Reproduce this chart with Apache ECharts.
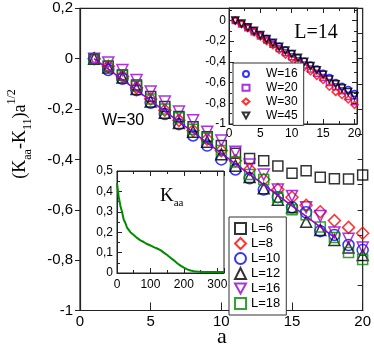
<!DOCTYPE html>
<html><head><meta charset="utf-8">
<script src="https://cdn.jsdelivr.net/npm/echarts@6/dist/echarts.min.js"></script>
<style>html,body{margin:0;padding:0;background:#fff}#c{width:374px;height:346px}</style>
</head><body><div id="c"></div>
<script>
// ---- data ----
const A_VALUES = [1,2,3,4,5,6,7,8,9,10,11,12,13,14,15,16,17,18,19,20];
const L6  = [0,-0.03,-0.065,-0.105,-0.15,-0.19,-0.23,-0.27,-0.31,-0.345,-0.376,-0.396,-0.405,-0.426,-0.455,-0.445,-0.471,-0.477,-0.478,-0.462];
const L8  = [0,-0.03,-0.07,-0.115,-0.16,-0.205,-0.245,-0.285,-0.32,-0.365,-0.405,-0.44,-0.48,-0.52,-0.55,-0.582,-0.608,-0.643,-0.67,-0.693];
const L10 = [0,-0.045,-0.08,-0.125,-0.175,-0.22,-0.26,-0.305,-0.345,-0.4,-0.44,-0.475,-0.52,-0.55,-0.59,-0.61,-0.685,-0.7,-0.74,-0.76];
const L12 = [0,-0.035,-0.075,-0.12,-0.17,-0.215,-0.255,-0.29,-0.33,-0.38,-0.425,-0.47,-0.515,-0.56,-0.59,-0.648,-0.68,-0.72,-0.75,-0.78];
const L16 = [0,-0.015,-0.045,-0.085,-0.13,-0.17,-0.21,-0.245,-0.29,-0.325,-0.37,-0.42,-0.46,-0.52,-0.545,-0.59,-0.625,-0.69,-0.715,-0.75];
const L18 = [0,-0.03,-0.065,-0.11,-0.16,-0.2,-0.235,-0.28,-0.315,-0.365,-0.41,-0.46,-0.48,-0.55,-0.6,-0.62,-0.668,-0.71,-0.77,-0.797];
const FIT_X = [1,18];
const FIT_Y = [0,-0.71];

const W16 = [0,-0.03,-0.065,-0.1,-0.14,-0.175,-0.215,-0.25,-0.285,-0.32,-0.36,-0.395,-0.43,-0.47,-0.51,-0.55,-0.6,-0.635,-0.667,-0.705];
const W20 = [0,-0.035,-0.07,-0.11,-0.15,-0.19,-0.23,-0.27,-0.31,-0.35,-0.39,-0.43,-0.47,-0.51,-0.55,-0.6,-0.64,-0.68,-0.735,-0.785];
const W30 = [0,-0.035,-0.075,-0.115,-0.155,-0.2,-0.24,-0.285,-0.33,-0.37,-0.41,-0.45,-0.49,-0.535,-0.575,-0.64,-0.69,-0.72,-0.763,-0.815];
const W45 = [0,-0.03,-0.065,-0.1,-0.14,-0.18,-0.215,-0.255,-0.29,-0.325,-0.36,-0.4,-0.44,-0.48,-0.525,-0.57,-0.615,-0.655,-0.69,-0.73];

const KAA_X = [0,5,10,15,20,25,30,35,40,45,50,55,60,65,70,75,80,85,90,95,100,105,110,115,120,125,130,135,140,145,150,155,160,165,170,175,180,185,190,195,200,205,210,215,220,225,230,235,240,245,250,255,260,265,270,275,280,285,290,295,300,305,310,315,320];
const KAA_Y = [0.44,0.375,0.33,0.3,0.262,0.245,0.222,0.215,0.2,0.196,0.186,0.184,0.172,0.17,0.16,0.162,0.152,0.15,0.142,0.145,0.135,0.137,0.127,0.128,0.12,0.118,0.112,0.109,0.1,0.096,0.088,0.082,0.075,0.068,0.062,0.055,0.048,0.042,0.036,0.031,0.026,0.022,0.018,0.015,0.012,0.01,0.009,0.008,0.007,0.006,0.006,0.005,0.005,0.005,0.005,0.005,0.005,0.005,0.005,0.005,0.005,0.005,0.005,0.005,0.005];

// ---- helpers ----
const SANS = 'Liberation Sans', SERIF = 'Liberation Serif';
const TRI_DOWN = 'path://M0,0 L10,0 L5,9 Z';
function fmtStep(step){
  return function(v){
    const k = v/step;
    if (Math.abs(k-Math.round(k))>1e-6) return '';
    const r = Math.round(v*100)/100;
    if (Math.abs(r)<1e-9) return '0';
    return String(r).replace('.',',');
  };
}
function pairs(xs, ys){ return xs.map((x,i)=>[x, ys[i]]); }
function hollow(name, data, symbol, size, color, xi, yi, z){
  return {name, type:'scatter', data, symbol, symbolSize:size, xAxisIndex:xi, yAxisIndex:yi, z:z,
    itemStyle:{color:'rgba(0,0,0,0)', borderColor:color, borderWidth:1.5}, emphasis:{disabled:true}};
}
const noSplit = {show:false};
const LC = '#222';
function line(w){ return {onZero:false, lineStyle:{color:LC, width:w||1}}; }

const chart = echarts.init(document.getElementById('c'), null, {renderer:'canvas'});
const IX_MAX = 20.4;
const option = {
  animation:false,
  backgroundColor:'#fff',
  grid:[
    {left:80, top:8.3, width:283.3, height:302.2, show:true, borderColor:LC, borderWidth:1.2, backgroundColor:'#fff'},
    {left:229, top:8, width:128, height:116, show:true, borderColor:LC, borderWidth:1, backgroundColor:'#fff'},
    {left:117, top:171, width:107, height:102, show:true, borderColor:LC, borderWidth:1, backgroundColor:'#fff'}
  ],
  xAxis:[
    {gridIndex:0, type:'value', min:0, max:20, interval:5, axisLine:line(1.2),
     axisTick:{inside:true,length:8,lineStyle:{color:LC}}, axisLabel:{fontFamily:SANS,fontSize:15,color:'#000',margin:4,formatter:fmtStep(5)}, splitLine:noSplit},
    {gridIndex:1, type:'value', min:0, max:IX_MAX, interval:5, axisLine:line(),
     axisTick:{inside:true,length:5,lineStyle:{color:LC}}, minorTick:{show:true,splitNumber:2,length:3,lineStyle:{color:LC}},
     axisLabel:{fontFamily:SANS,fontSize:12,color:'#000',margin:4,formatter:fmtStep(5)}, splitLine:noSplit, minorSplitLine:noSplit, z:5},
    {gridIndex:1, type:'value', position:'top', min:0, max:IX_MAX, interval:5, axisLine:line(),
     axisTick:{inside:true,length:5,lineStyle:{color:LC}}, minorTick:{show:true,splitNumber:2,length:3,lineStyle:{color:LC}},
     axisLabel:{show:false}, splitLine:noSplit, z:5},
    {gridIndex:2, type:'value', min:0, max:320, interval:100, axisLine:line(),
     axisTick:{inside:true,length:5,lineStyle:{color:LC}}, minorTick:{show:true,splitNumber:2,length:3,lineStyle:{color:LC}},
     axisLabel:{fontFamily:SANS,fontSize:12,color:'#000',margin:6,formatter:fmtStep(100)}, splitLine:noSplit, z:5},
    {gridIndex:2, type:'value', position:'top', min:0, max:320, interval:100, axisLine:line(),
     axisTick:{inside:true,length:5,lineStyle:{color:LC}}, minorTick:{show:true,splitNumber:2,length:3,lineStyle:{color:LC}},
     axisLabel:{show:false}, splitLine:noSplit, z:5}
  ],
  yAxis:[
    {gridIndex:0, type:'value', min:-1, max:0.2, interval:0.2, axisLine:line(1.2),
     axisTick:{inside:false,length:5,lineStyle:{color:LC}}, axisLabel:{fontFamily:SANS,fontSize:15,color:'#000',margin:7,formatter:fmtStep(0.2)}, splitLine:noSplit},
    {gridIndex:0, type:'value', min:-1, max:0.2, interval:0.1, axisLine:{show:false, onZero:false},
     axisTick:{inside:true,length:5,lineStyle:{color:LC}}, axisLabel:{show:false}, splitLine:noSplit},
    {gridIndex:1, type:'value', min:-1, max:0.12, interval:0.2, axisLine:line(),
     axisTick:{inside:true,length:5,lineStyle:{color:LC}}, minorTick:{show:true,splitNumber:2,length:3,lineStyle:{color:LC}},
     axisLabel:{fontFamily:SANS,fontSize:12,color:'#000',margin:3,formatter:fmtStep(0.2)}, splitLine:noSplit, minorSplitLine:noSplit, z:5},
    {gridIndex:1, type:'value', position:'right', min:-1, max:0.12, interval:0.2, axisLine:line(),
     axisTick:{inside:true,length:5,lineStyle:{color:LC}}, minorTick:{show:true,splitNumber:2,length:3,lineStyle:{color:LC}},
     axisLabel:{show:false}, splitLine:noSplit, z:5},
    {gridIndex:2, type:'value', min:0, max:0.5, interval:0.1, axisLine:line(),
     axisTick:{inside:true,length:5,lineStyle:{color:LC}}, minorTick:{show:true,splitNumber:2,length:3,lineStyle:{color:LC}},
     axisLabel:{fontFamily:SANS,fontSize:12,color:'#000',margin:4,formatter:fmtStep(0.1)}, splitLine:noSplit, minorSplitLine:noSplit, z:5}
  ],
  legend:[
    {data:['L=6','L=8','L=10','L=12','L=16','L=18'], orient:'vertical', left:229, top:217,
     padding:[5,6,5,5], itemWidth:11, itemHeight:11, itemGap:2, backgroundColor:'#fff', borderColor:'#333', borderWidth:1,
     textStyle:{fontFamily:SANS,fontSize:13,color:'#000'}, z:20, selectedMode:false},
    {data:['W=16','W=20','W=30','W=45'], orient:'vertical', left:233, top:63,
     padding:[5,6,4,8.5], itemWidth:7, itemHeight:6, itemGap:1.8, backgroundColor:'#fff', borderColor:'#333', borderWidth:1,
     textStyle:{fontFamily:SANS,fontSize:12,color:'#000',padding:[0,0,0,11.5]}, z:20, selectedMode:false}
  ],
  series:[
    hollow('L=6', pairs(A_VALUES,L6), 'rect', 10, '#000', 0, 0, 3),
    hollow('L=8', pairs(A_VALUES,L8), 'diamond', 12, '#ff0000', 0, 0, 3),
    hollow('L=10', pairs(A_VALUES,L10), 'circle', 11, '#0000ff', 0, 0, 3),
    hollow('L=12', pairs(A_VALUES,L12), 'triangle', 11, '#000', 0, 0, 3),
    hollow('L=16', pairs(A_VALUES,L16), TRI_DOWN, 11, '#9400d3', 0, 0, 3),
    hollow('L=18', pairs(A_VALUES,L18), 'rect', 10, '#008b00', 0, 0, 3),
    {name:'fit', type:'line', data:pairs(FIT_X,FIT_Y), xAxisIndex:0, yAxisIndex:0, symbol:'none',
     lineStyle:{color:'#9400d3',width:1.5}, z:6, silent:true},
    hollow('W=16', pairs(A_VALUES,W16), 'circle', 6, '#0000ff', 1, 2, 8),
    hollow('W=20', pairs(A_VALUES,W20), 'rect', 6, '#9400d3', 1, 2, 8),
    hollow('W=30', pairs(A_VALUES,W30), 'diamond', 7, '#ff0000', 1, 2, 8),
    hollow('W=45', pairs(A_VALUES,W45), TRI_DOWN, 7, '#000', 1, 2, 8),
    {name:'Kaa', type:'line', data:pairs(KAA_X,KAA_Y), xAxisIndex:3, yAxisIndex:4, symbol:'none',
     lineStyle:{color:'#008b00',width:2}, z:8, silent:true}
  ],
  graphic:[
    {type:'text', x:102, y:121, style:{text:'W=30', font:'16px "Liberation Sans"', fill:'#000', verticalAlign:'middle'}, z:30},
    {type:'text', x:316, y:33, style:{text:'L=14', font:'20px "Liberation Serif"', fill:'#000', align:'center', verticalAlign:'middle'}, z:30},
    {type:'text', x:160, y:196, style:{text:'{k|K}{s|aa}', fill:'#000', verticalAlign:'middle',
      rich:{k:{fontFamily:SERIF,fontSize:19,lineHeight:26,verticalAlign:'middle'}, s:{fontFamily:SERIF,fontSize:11,verticalAlign:'bottom',lineHeight:11}}}, z:30},
    {type:'text', x:222, y:337, style:{text:'a', font:'22px "Liberation Serif"', fill:'#000', align:'center', verticalAlign:'middle'}, z:30},
    {type:'text', x:20, y:134, rotation:Math.PI/2, style:{text:'{b|(K}{s|aa}{b|-K}{s|11}{b|)a}{p|1/2}', fill:'#000', align:'center', verticalAlign:'middle',
      rich:{b:{fontFamily:SERIF,fontSize:18,lineHeight:28,verticalAlign:'middle'}, s:{fontFamily:SERIF,fontSize:12,lineHeight:12,verticalAlign:'bottom'}, p:{fontFamily:SERIF,fontSize:12,lineHeight:12,verticalAlign:'top'}}}, z:30}
  ]
};
chart.setOption(option);
</script></body></html>
